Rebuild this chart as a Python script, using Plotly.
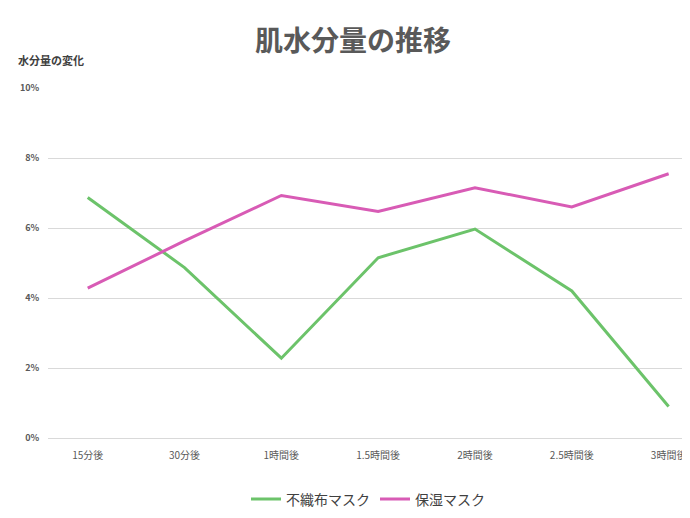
import plotly.graph_objects as go

# 肌水分量の推移
categories = ["15分後", "30分後", "1時間後", "1.5時間後", "2時間後", "2.5時間後", "3時間後"]
nonwoven = [6.87, 4.87, 2.28, 5.15, 5.97, 4.2, 0.9]
moist = [4.28, 5.63, 6.93, 6.47, 7.15, 6.6, 7.55]
y_ticks = [0, 2, 4, 6, 8, 10]

font = "Noto Sans CJK JP"

fig = go.Figure()
fig.add_trace(go.Scatter(x=categories, y=nonwoven, name="不織布マスク", mode="lines",
                         line=dict(color="#6cc36a", width=3)))
fig.add_trace(go.Scatter(x=categories, y=moist, name="保湿マスク", mode="lines",
                         line=dict(color="#d85bb5", width=3)))

fig.update_layout(
    width=690, height=518,
    margin=dict(l=40, r=10, t=80, b=83),
    paper_bgcolor="white", plot_bgcolor="white",
    font=dict(family=font, color="#595959", size=10),
    title=dict(text="<b>肌水分量の推移</b>", x=0.5, y=0.955, xanchor="center",
               font=dict(size=28, color="#595959", family=font)),
    legend=dict(orientation="h", x=0.5, xanchor="center", y=-0.13, yanchor="top",
                font=dict(size=14, color="#404040")),
    showlegend=True,
)
fig.update_xaxes(range=[-0.41, 6.2], showgrid=False, showline=True, linecolor="#d9d9d9",
                 ticks="outside", ticklen=8, tickcolor="white",
                 tickfont=dict(size=10, color="#595959"))
fig.update_yaxes(range=[0, 10], tickvals=y_ticks, ticktext=[f"<b>{v}%</b>" for v in y_ticks],
                 showgrid=True, gridcolor="#d9d9d9", zeroline=False, showline=False,
                 ticks="outside", ticklen=6, tickcolor="white",
                 tickfont=dict(size=9, color="#595959"))
fig.add_annotation(text="<b>水分量の変化</b>", xref="paper", yref="paper", x=-0.05, y=1.05,
                   xanchor="left", yanchor="bottom", showarrow=False,
                   font=dict(size=11, color="#404040"))

fig.write_html("out.html")
